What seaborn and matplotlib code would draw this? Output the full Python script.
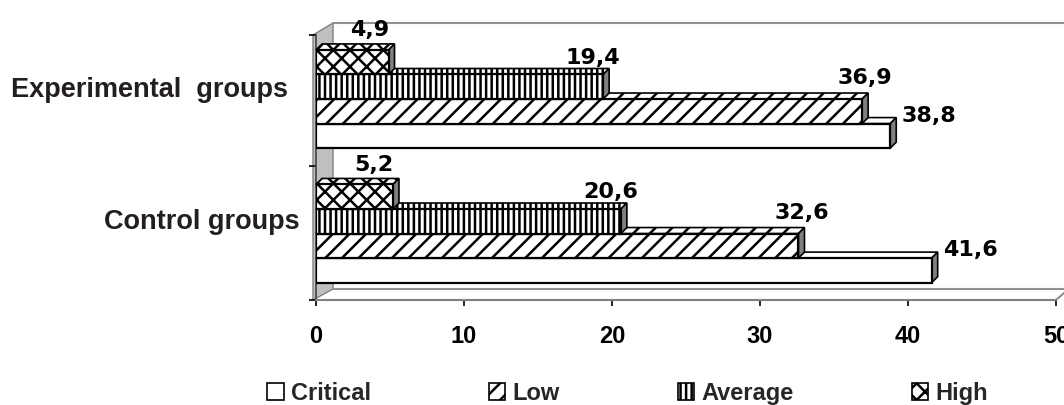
import numpy as np
import pandas as pd
import matplotlib
matplotlib.use("Agg")
import matplotlib.pyplot as plt
import matplotlib.transforms as mtransforms
from matplotlib.patches import Polygon, Patch
from matplotlib.lines import Line2D
import seaborn as sns

# ---------------- data ----------------
groups = ["Experimental  groups", "Control groups"]
levels = ["Critical", "Low", "Average", "High"]
experimental_values = [38.8, 36.9, 19.4, 4.9]
control_values = [41.6, 32.6, 20.6, 5.2]
x_ticks = [0, 10, 20, 30, 40, 50]

# ---------------- styles ----------------
hatches = {"Critical": "", "Low": "//", "Average": "|||", "High": "xx"}
label_offsets_px = {"Critical": (39, -20), "Low": (3, -33), "Average": (-10, -29), "High": (-19, -32)}
group_label_shift_px = {"Experimental  groups": (-11, 12), "Control groups": (0, 15)}
depth_px = 6

sns.set_style("white")
plt.rcParams["hatch.linewidth"] = 1.8
plt.rcParams["font.family"] = ["Liberation Sans", "DejaVu Sans"]

W, H = 1064, 405
fig = plt.figure(figsize=(W / 100, H / 100), dpi=100)
ax = fig.add_axes([316 / W, 105 / H, 740 / W, 265 / H])
ax.patch.set_visible(False)

df = pd.DataFrame({
    "group": [groups[0]] * len(levels) + [groups[1]] * len(levels),
    "level": levels + levels,
    "value": experimental_values + control_values,
})
hue_order = ["High", "Average", "Low", "Critical"]
sns.barplot(data=df, x="value", y="group", hue="level", hue_order=hue_order,
            order=groups, orient="h", width=0.73, palette=["white"] * 4,
            edgecolor="black", linewidth=1.6, saturation=1, legend=False, ax=ax)

ax.set_xlim(0, 50)
ax.set_ylim(1.494, -0.476)
ax.set_xticks(x_ticks)
ax.set_xlabel("")
ax.set_ylabel("")

def to_px(xd, yd):
    return ax.transData.transform((xd, yd))

def to_data(p):
    return ax.transData.inverted().transform(p)

d = np.array([depth_px, depth_px])
for container, level in zip(ax.containers, hue_order):
    for bar in container:
        x0 = bar.get_x()
        yb = bar.get_y()
        w = bar.get_width()
        h = bar.get_height()
        yc = yb + h / 2
        z = 5 - yc
        bar.set_hatch(hatches[level])
        bar.set_zorder(z + 0.01)
        ytop = min(yb, yb + h)
        ybot = max(yb, yb + h)
        p0 = to_px(x0, ytop)
        p1 = to_px(x0 + w, ytop)
        p2 = to_px(x0 + w, ybot)
        top_face = [to_data(p0), to_data(p1), to_data(p1 + d), to_data(p0 + d)]
        side_face = [to_data(p2), to_data(p1), to_data(p1 + d), to_data(p2 + d)]
        ax.add_patch(Polygon(top_face, closed=True, facecolor="white", edgecolor="black",
                             hatch=hatches[level], linewidth=1.2, zorder=z, clip_on=False))
        ax.add_patch(Polygon(side_face, closed=True, facecolor="#808080", edgecolor="black",
                             linewidth=1.2, zorder=z, clip_on=False))
        dx, dy = label_offsets_px[level]
        ax.annotate(f"{w:.1f}".replace(".", ","), xy=(x0 + w, yc),
                    xytext=(dx * 0.72, -dy * 0.72), textcoords="offset points",
                    ha="center", va="center", fontsize=16, fontweight="bold",
                    family=["DejaVu Sans"], color="black", zorder=10)

# spines and ticks
for s in ["top", "right"]:
    ax.spines[s].set_visible(False)
ax.spines["left"].set_color("#404040")
ax.spines["left"].set_linewidth(1.2)
ax.spines["bottom"].set_color("#808080")
ax.spines["bottom"].set_linewidth(1.5)

ax.tick_params(axis="x", direction="out", length=4, width=1.2, color="black", pad=14,
               labelsize=17, labelcolor="black", bottom=True)
for lab in ax.get_xticklabels():
    lab.set_fontweight("bold")

ax.tick_params(axis="y", which="major", length=0, pad=12, labelsize=19.5, left=False)
ylo, yhi = ax.get_ylim()
ax.set_yticks([yhi, 0.5, ylo], minor=True)
ax.tick_params(axis="y", which="minor", direction="out", length=5, width=1.2, color="black", left=True)
for lab in ax.get_yticklabels():
    lab.set_fontweight("bold")
    lab.set_color("#231f20")
    sx, sy = group_label_shift_px.get(lab.get_text(), (0, 0))
    lab.set_transform(lab.get_transform() +
                      mtransforms.ScaledTranslation(sx / 100, sy / 100, fig.dpi_scale_trans))

# 3D wall / floor outline in figure pixels
def fpx(x, y):
    return (x / W, 1 - y / H)

wall = Polygon([fpx(313, 35), fpx(333, 23), fpx(333, 289), fpx(313, 300)], closed=True,
               facecolor="#c0c0c0", edgecolor="#808080", linewidth=1.0,
               transform=fig.transFigure, zorder=-1)
fig.add_artist(wall)
for (xa, ya), (xb, yb2) in [((333, 23), (1064, 23)), ((333, 289), (1064, 289)),
                            ((1056, 300), (1064, 293))]:
    a, b = fpx(xa, ya), fpx(xb, yb2)
    fig.add_artist(Line2D([a[0], b[0]], [a[1], b[1]], color="#909090", linewidth=1.5,
                          transform=fig.transFigure, zorder=-1))

# legend
handles = [Patch(facecolor="white", edgecolor="black", hatch=hatches[l], linewidth=1.2) for l in levels]
fig.legend(handles, levels, loc="lower left", bbox_to_anchor=(267 / W, 0.0), ncol=4,
           frameon=False, prop={"weight": "bold", "size": 17}, handlelength=0.7,
           handleheight=0.7, handletextpad=0.3, columnspacing=5.0, borderpad=0,
           borderaxespad=0)

fig.savefig("out.png", dpi=100)
